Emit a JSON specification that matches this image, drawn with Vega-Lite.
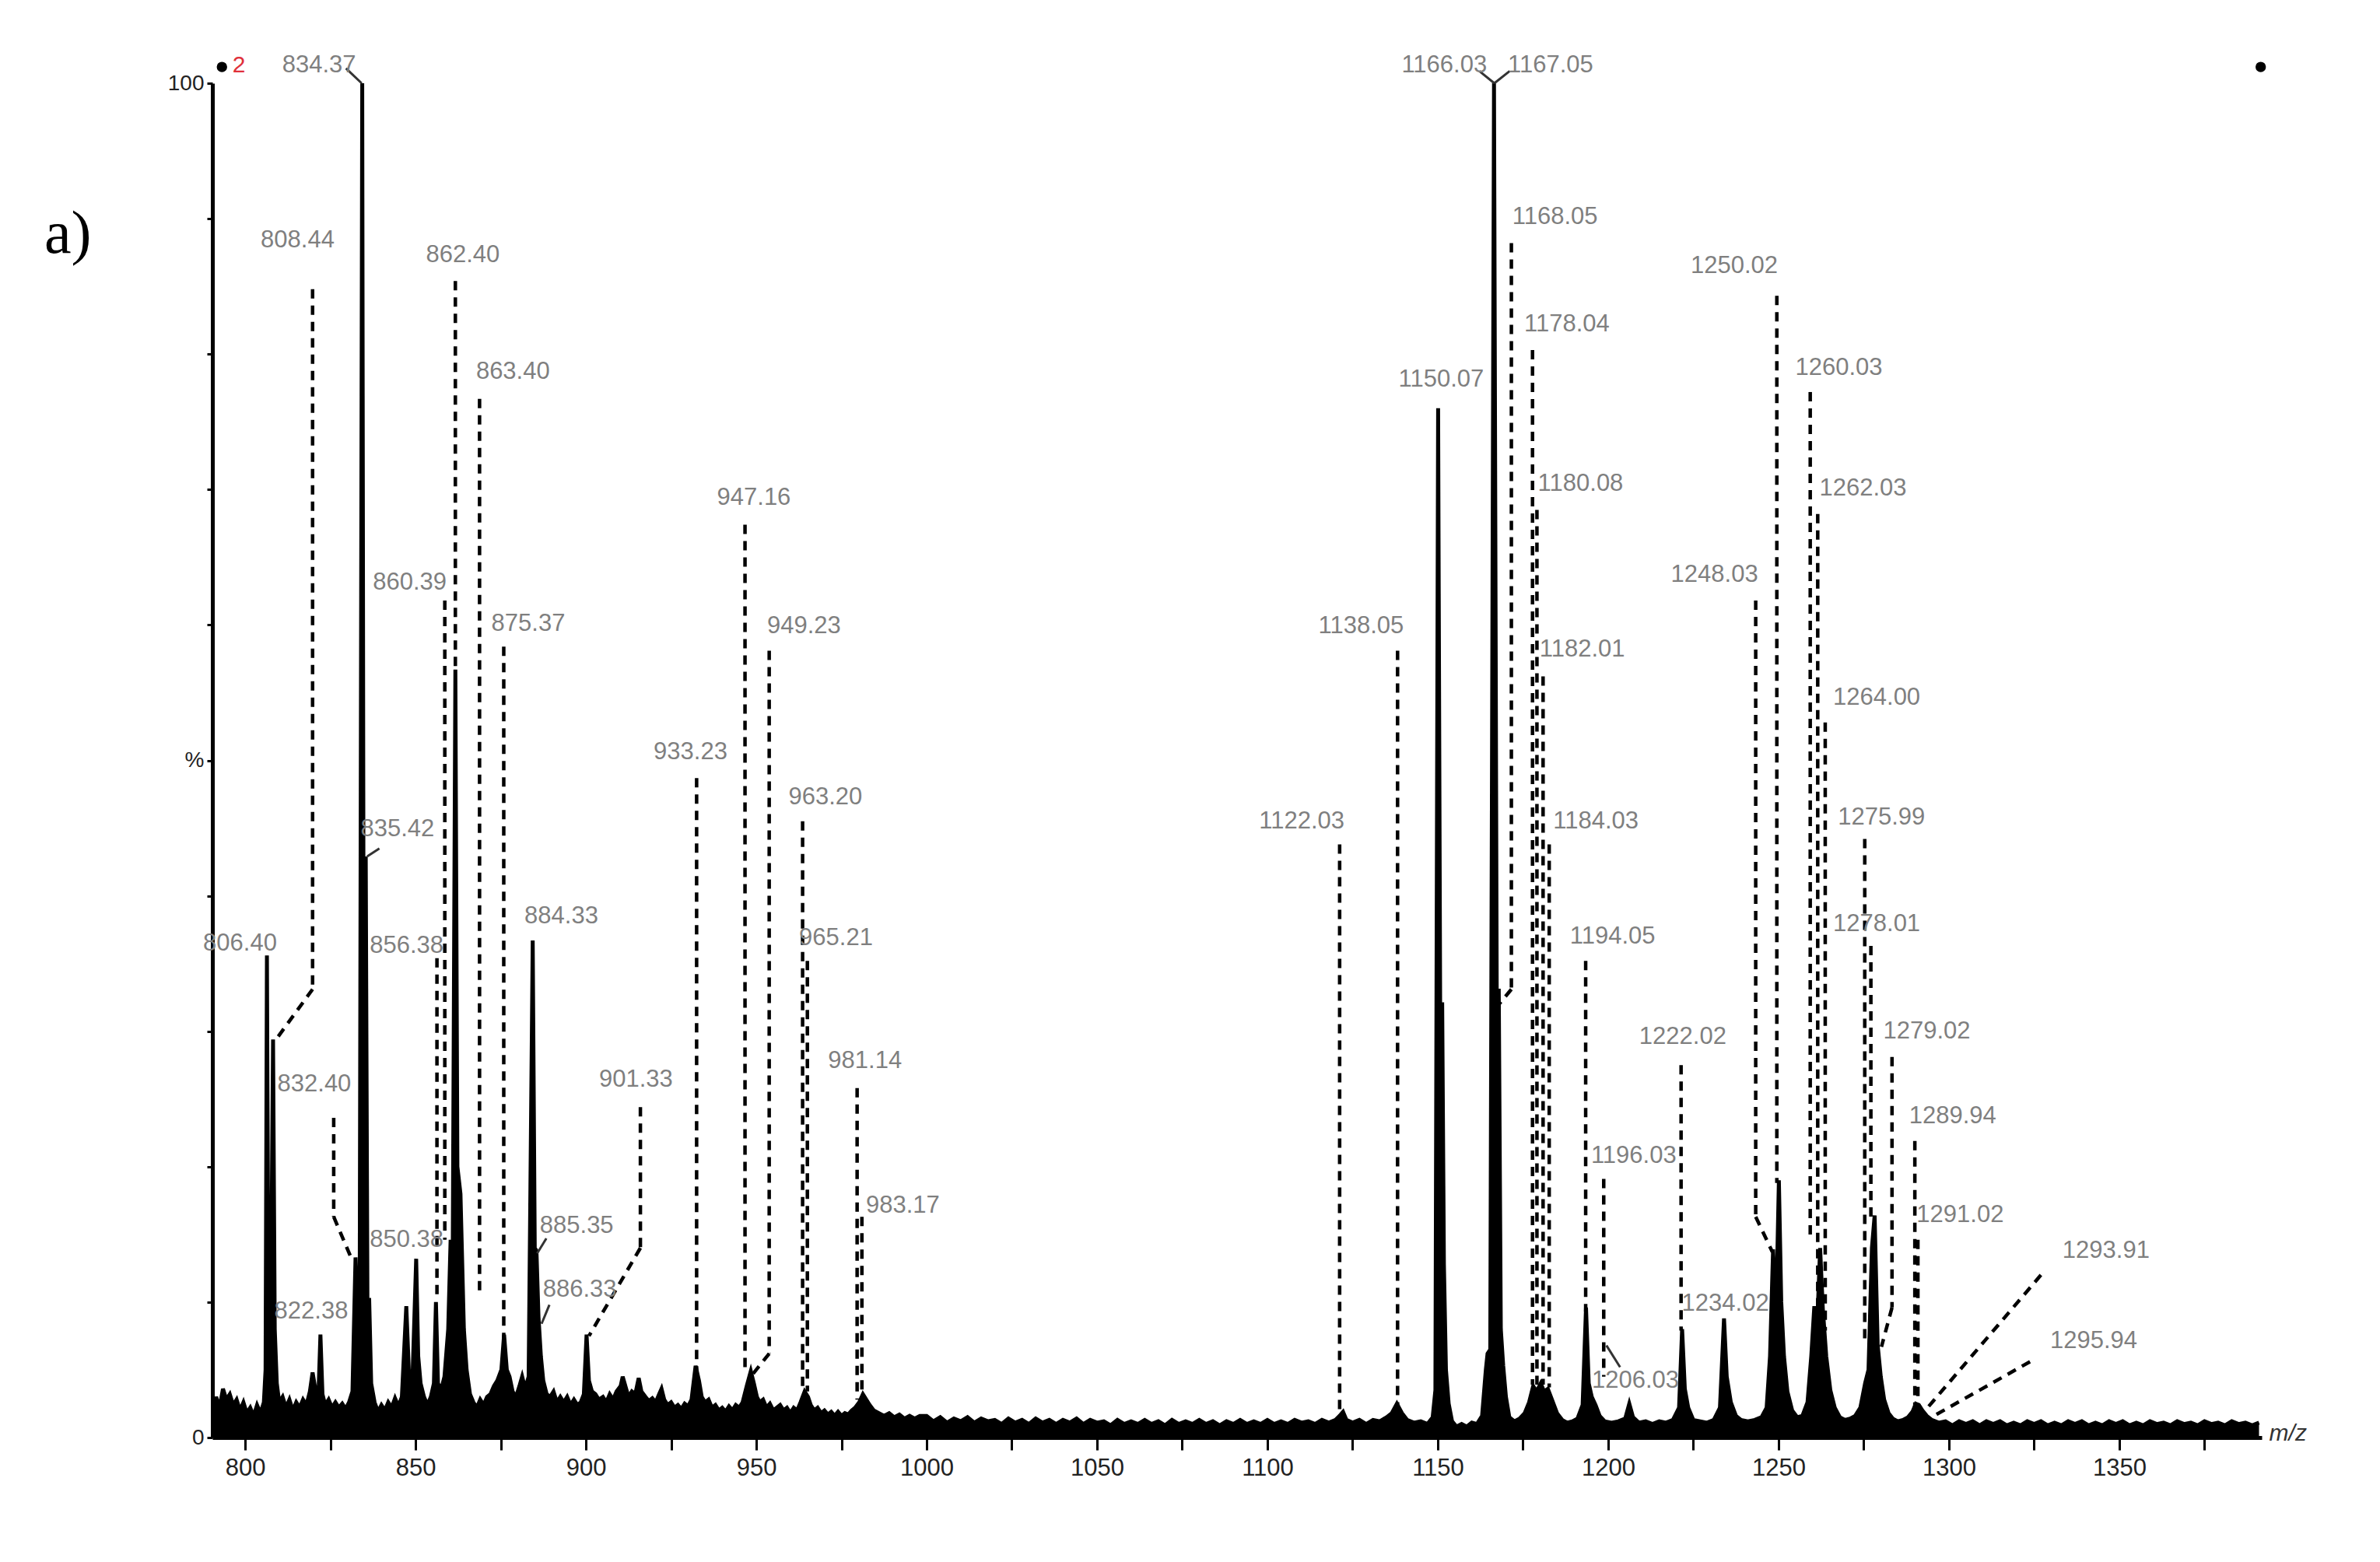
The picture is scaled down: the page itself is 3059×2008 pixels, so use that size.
{
  "$schema": "https://vega.github.io/schema/vega-lite/v6.json",
  "width": 2634,
  "height": 1741,
  "autosize": {"type": "none"},
  "padding": {"left": 273, "top": 107, "right": 152, "bottom": 160},
  "background": "white",
  "config": {"view": {"stroke": null}, "font": "Liberation Sans"},
  "datasets": {
    "spectrum": [
      {"mz": 790.5, "i": 1.5}, {"mz": 791.5, "i": 3.0}, {"mz": 792.5, "i": 2.2}, {"mz": 793.5, "i": 3.6}, {"mz": 794.5, "i": 2.8},
      {"mz": 795.5, "i": 3.2}, {"mz": 796.5, "i": 2.4}, {"mz": 797.5, "i": 2.8}, {"mz": 798.5, "i": 2.0}, {"mz": 799.5, "i": 2.6},
      {"mz": 800.5, "i": 1.8}, {"mz": 801.5, "i": 2.2}, {"mz": 802.5, "i": 1.6}, {"mz": 803.5, "i": 2.4}, {"mz": 804.5, "i": 1.8},
      {"mz": 805.5, "i": 2.6}, {"mz": 806.0, "i": 5}, {"mz": 806.4, "i": 35.6}, {"mz": 806.9, "i": 6}, {"mz": 807.6, "i": 10},
      {"mz": 808.2, "i": 29.4}, {"mz": 808.7, "i": 8}, {"mz": 809.3, "i": 4}, {"mz": 810, "i": 2.6}, {"mz": 811, "i": 3.0},
      {"mz": 812, "i": 2.2}, {"mz": 813, "i": 2.8}, {"mz": 814, "i": 2.0}, {"mz": 815, "i": 2.6}, {"mz": 816, "i": 2.2},
      {"mz": 817, "i": 2.8}, {"mz": 818, "i": 2.4}, {"mz": 819, "i": 3.4}, {"mz": 819.8, "i": 4.8}, {"mz": 820.6, "i": 3.6},
      {"mz": 821.5, "i": 3.0}, {"mz": 822.1, "i": 7.6}, {"mz": 822.7, "i": 3.2}, {"mz": 823.5, "i": 2.4}, {"mz": 824.5, "i": 2.8},
      {"mz": 825.5, "i": 2.2}, {"mz": 826.5, "i": 2.6}, {"mz": 827.5, "i": 2.2}, {"mz": 828.5, "i": 2.5}, {"mz": 829.5, "i": 2.1},
      {"mz": 830.5, "i": 2.6}, {"mz": 831.5, "i": 3.4}, {"mz": 832.4, "i": 13.3}, {"mz": 833.0, "i": 9}, {"mz": 833.6, "i": 8},
      {"mz": 834.37, "i": 100}, {"mz": 834.9, "i": 12}, {"mz": 835.4, "i": 42.9}, {"mz": 835.9, "i": 10}, {"mz": 836.4, "i": 10.3},
      {"mz": 837.0, "i": 4}, {"mz": 838, "i": 2.6}, {"mz": 839, "i": 1.9}, {"mz": 840, "i": 2.4}, {"mz": 841, "i": 2.0},
      {"mz": 842, "i": 2.6}, {"mz": 843, "i": 2.2}, {"mz": 844, "i": 2.9}, {"mz": 845, "i": 2.3}, {"mz": 846, "i": 3.0},
      {"mz": 847.3, "i": 9.7}, {"mz": 848.2, "i": 4}, {"mz": 849.2, "i": 5}, {"mz": 850.2, "i": 13.2}, {"mz": 850.8, "i": 6},
      {"mz": 851.5, "i": 4}, {"mz": 852.5, "i": 3}, {"mz": 853.5, "i": 2.4}, {"mz": 854.5, "i": 3.0}, {"mz": 855.4, "i": 4},
      {"mz": 856.0, "i": 10}, {"mz": 856.6, "i": 4}, {"mz": 857.5, "i": 3.5}, {"mz": 858.5, "i": 4.5}, {"mz": 859.6, "i": 8},
      {"mz": 860.3, "i": 14.6}, {"mz": 860.9, "i": 12}, {"mz": 861.7, "i": 56.7}, {"mz": 862.3, "i": 20}, {"mz": 863.2, "i": 18},
      {"mz": 864.2, "i": 8}, {"mz": 865, "i": 5}, {"mz": 866, "i": 3.2}, {"mz": 867, "i": 2.6}, {"mz": 868, "i": 2.2},
      {"mz": 869, "i": 2.8}, {"mz": 870, "i": 2.4}, {"mz": 871, "i": 3.0}, {"mz": 872, "i": 3.2}, {"mz": 873, "i": 3.8},
      {"mz": 874, "i": 4.2}, {"mz": 875.2, "i": 5}, {"mz": 876, "i": 7.6}, {"mz": 876.8, "i": 5}, {"mz": 877.6, "i": 4.5},
      {"mz": 878.5, "i": 3.4}, {"mz": 879.5, "i": 3.0}, {"mz": 880.5, "i": 3.8}, {"mz": 881.3, "i": 4.5}, {"mz": 882.2, "i": 3.6},
      {"mz": 883.2, "i": 4.5}, {"mz": 884.4, "i": 36.7}, {"mz": 885.0, "i": 14}, {"mz": 885.5, "i": 13.8}, {"mz": 886.1, "i": 8.9},
      {"mz": 886.8, "i": 6}, {"mz": 887.5, "i": 4.2}, {"mz": 888.5, "i": 3.2}, {"mz": 889.5, "i": 3.0}, {"mz": 890.5, "i": 3.4},
      {"mz": 891.5, "i": 2.6}, {"mz": 892.5, "i": 3.0}, {"mz": 893.5, "i": 2.6}, {"mz": 894.5, "i": 3.0}, {"mz": 895.5, "i": 2.4},
      {"mz": 896.5, "i": 2.8}, {"mz": 897.5, "i": 2.4}, {"mz": 898.5, "i": 2.6}, {"mz": 899.4, "i": 3.2}, {"mz": 900.2, "i": 7.6},
      {"mz": 900.9, "i": 4.2}, {"mz": 901.8, "i": 3.4}, {"mz": 902.8, "i": 3.2}, {"mz": 903.8, "i": 2.8}, {"mz": 905, "i": 3.0},
      {"mz": 906, "i": 2.6}, {"mz": 907, "i": 3.2}, {"mz": 908, "i": 2.8}, {"mz": 909, "i": 3.4}, {"mz": 910.2, "i": 3.8},
      {"mz": 910.8, "i": 4.5}, {"mz": 911.6, "i": 3.8}, {"mz": 912.5, "i": 3.0}, {"mz": 913.5, "i": 3.4}, {"mz": 914.5, "i": 3.2},
      {"mz": 915.5, "i": 4.4}, {"mz": 916.3, "i": 3.4}, {"mz": 917.5, "i": 3.0}, {"mz": 918.5, "i": 2.7}, {"mz": 919.5, "i": 2.9},
      {"mz": 920.5, "i": 2.6}, {"mz": 921.5, "i": 3.2}, {"mz": 922.2, "i": 3.6}, {"mz": 923, "i": 2.8}, {"mz": 924, "i": 2.4},
      {"mz": 925, "i": 2.6}, {"mz": 926, "i": 2.2}, {"mz": 927, "i": 2.4}, {"mz": 928, "i": 2.1}, {"mz": 929, "i": 2.5},
      {"mz": 930, "i": 2.3}, {"mz": 931, "i": 2.8}, {"mz": 932.2, "i": 5.3}, {"mz": 933.2, "i": 4.2}, {"mz": 934, "i": 3.0},
      {"mz": 935, "i": 2.6}, {"mz": 936, "i": 2.8}, {"mz": 937, "i": 2.2}, {"mz": 938, "i": 2.4}, {"mz": 939, "i": 2.0},
      {"mz": 940, "i": 2.2}, {"mz": 941, "i": 1.9}, {"mz": 942, "i": 2.3}, {"mz": 943, "i": 2.0}, {"mz": 944, "i": 2.4},
      {"mz": 945, "i": 2.2}, {"mz": 946, "i": 2.6}, {"mz": 947.2, "i": 3.8}, {"mz": 948.4, "i": 4.9}, {"mz": 949.3, "i": 4.0},
      {"mz": 950.2, "i": 3.0}, {"mz": 951, "i": 2.6}, {"mz": 952, "i": 2.8}, {"mz": 953, "i": 2.2}, {"mz": 954, "i": 2.5},
      {"mz": 955, "i": 2.0}, {"mz": 956, "i": 2.2}, {"mz": 957, "i": 2.4}, {"mz": 958, "i": 2.0}, {"mz": 959, "i": 2.2},
      {"mz": 960, "i": 1.8}, {"mz": 961, "i": 2.2}, {"mz": 962, "i": 2.0}, {"mz": 963, "i": 2.6}, {"mz": 964.2, "i": 3.4},
      {"mz": 965.2, "i": 3.0}, {"mz": 966, "i": 2.4}, {"mz": 967, "i": 2.0}, {"mz": 968, "i": 2.2}, {"mz": 969, "i": 1.8},
      {"mz": 970, "i": 2.0}, {"mz": 971, "i": 1.7}, {"mz": 972, "i": 1.9}, {"mz": 973, "i": 1.6}, {"mz": 974, "i": 1.9},
      {"mz": 975, "i": 1.6}, {"mz": 976, "i": 1.8}, {"mz": 977, "i": 1.7}, {"mz": 978, "i": 2.0}, {"mz": 979, "i": 2.2},
      {"mz": 980.2, "i": 2.6}, {"mz": 981.3, "i": 3.2}, {"mz": 982.3, "i": 2.8}, {"mz": 983.3, "i": 2.4}, {"mz": 984.5, "i": 2.0},
      {"mz": 986, "i": 1.8}, {"mz": 987.5, "i": 1.6}, {"mz": 989, "i": 1.8}, {"mz": 990.5, "i": 1.5}, {"mz": 992, "i": 1.7},
      {"mz": 993.5, "i": 1.4}, {"mz": 995, "i": 1.6}, {"mz": 996.5, "i": 1.4}, {"mz": 998, "i": 1.6}, {"mz": 1000, "i": 1.6},
      {"mz": 1002, "i": 1.2}, {"mz": 1004, "i": 1.5}, {"mz": 1006, "i": 1.1}, {"mz": 1008, "i": 1.4}, {"mz": 1010, "i": 1.2},
      {"mz": 1012, "i": 1.5}, {"mz": 1014, "i": 1.1}, {"mz": 1016, "i": 1.4}, {"mz": 1018, "i": 1.2}, {"mz": 1020, "i": 1.3},
      {"mz": 1022, "i": 1.0}, {"mz": 1024, "i": 1.4}, {"mz": 1026, "i": 1.1}, {"mz": 1028, "i": 1.3}, {"mz": 1030, "i": 1.0},
      {"mz": 1032, "i": 1.4}, {"mz": 1034, "i": 1.1}, {"mz": 1036, "i": 1.3}, {"mz": 1038, "i": 1.0}, {"mz": 1040, "i": 1.3},
      {"mz": 1042, "i": 1.1}, {"mz": 1044, "i": 1.4}, {"mz": 1046, "i": 1.0}, {"mz": 1048, "i": 1.3}, {"mz": 1050, "i": 1.1},
      {"mz": 1052, "i": 1.2}, {"mz": 1054, "i": 0.9}, {"mz": 1056, "i": 1.3}, {"mz": 1058, "i": 1.0}, {"mz": 1060, "i": 1.2},
      {"mz": 1062, "i": 1.0}, {"mz": 1064, "i": 1.3}, {"mz": 1066, "i": 1.0}, {"mz": 1068, "i": 1.2}, {"mz": 1070, "i": 0.9},
      {"mz": 1072, "i": 1.3}, {"mz": 1074, "i": 1.0}, {"mz": 1076, "i": 1.2}, {"mz": 1078, "i": 1.0}, {"mz": 1080, "i": 1.3},
      {"mz": 1082, "i": 1.0}, {"mz": 1084, "i": 1.2}, {"mz": 1086, "i": 0.9}, {"mz": 1088, "i": 1.2}, {"mz": 1090, "i": 1.0},
      {"mz": 1092, "i": 1.3}, {"mz": 1094, "i": 1.0}, {"mz": 1096, "i": 1.2}, {"mz": 1098, "i": 1.0}, {"mz": 1100, "i": 1.3},
      {"mz": 1102, "i": 1.0}, {"mz": 1104, "i": 1.2}, {"mz": 1106, "i": 1.0}, {"mz": 1108, "i": 1.3}, {"mz": 1110, "i": 1.1},
      {"mz": 1112, "i": 1.2}, {"mz": 1114, "i": 1.0}, {"mz": 1116, "i": 1.3}, {"mz": 1118, "i": 1.1}, {"mz": 1120, "i": 1.3},
      {"mz": 1121.2, "i": 1.6}, {"mz": 1122.2, "i": 1.9}, {"mz": 1123.2, "i": 1.3}, {"mz": 1125, "i": 1.1}, {"mz": 1127, "i": 1.3},
      {"mz": 1129, "i": 1.0}, {"mz": 1131, "i": 1.3}, {"mz": 1133, "i": 1.2}, {"mz": 1135, "i": 1.5}, {"mz": 1136.5, "i": 1.8},
      {"mz": 1138, "i": 2.5}, {"mz": 1139.5, "i": 1.8}, {"mz": 1141, "i": 1.3}, {"mz": 1143, "i": 1.1}, {"mz": 1145, "i": 1.2},
      {"mz": 1147, "i": 1.0}, {"mz": 1148.5, "i": 1.5}, {"mz": 1149.3, "i": 3.5}, {"mz": 1150.1, "i": 76}, {"mz": 1150.7, "i": 32},
      {"mz": 1151.3, "i": 32}, {"mz": 1151.8, "i": 12.8}, {"mz": 1152.4, "i": 5}, {"mz": 1153.2, "i": 2.5}, {"mz": 1154.2, "i": 1.2},
      {"mz": 1155.5, "i": 0.8}, {"mz": 1157, "i": 1.0}, {"mz": 1158.5, "i": 0.8}, {"mz": 1160, "i": 1.1}, {"mz": 1161.5, "i": 1.0},
      {"mz": 1163, "i": 1.6}, {"mz": 1164.1, "i": 5}, {"mz": 1164.6, "i": 6.2}, {"mz": 1165.4, "i": 6.5}, {"mz": 1166.5, "i": 100},
      {"mz": 1167.3, "i": 33}, {"mz": 1167.9, "i": 33}, {"mz": 1168.5, "i": 8}, {"mz": 1169.2, "i": 5.3}, {"mz": 1170, "i": 3},
      {"mz": 1171, "i": 1.5}, {"mz": 1172.5, "i": 1.2}, {"mz": 1174, "i": 1.4}, {"mz": 1175.5, "i": 1.8}, {"mz": 1176.8, "i": 2.6},
      {"mz": 1178, "i": 3.8}, {"mz": 1179, "i": 3.4}, {"mz": 1180.2, "i": 4.0}, {"mz": 1181.2, "i": 3.4}, {"mz": 1182.3, "i": 3.6},
      {"mz": 1183.5, "i": 2.8}, {"mz": 1185, "i": 1.8}, {"mz": 1186.5, "i": 1.3}, {"mz": 1188, "i": 1.1}, {"mz": 1189.5, "i": 1.2},
      {"mz": 1191, "i": 1.4}, {"mz": 1192.5, "i": 2.4}, {"mz": 1193.5, "i": 9.6}, {"mz": 1194.3, "i": 4}, {"mz": 1195.2, "i": 3},
      {"mz": 1196.3, "i": 2.4}, {"mz": 1197.5, "i": 1.6}, {"mz": 1199, "i": 1.2}, {"mz": 1201, "i": 1.1}, {"mz": 1203, "i": 1.2},
      {"mz": 1205, "i": 1.4}, {"mz": 1206.2, "i": 2.5}, {"mz": 1207.3, "i": 1.5}, {"mz": 1209, "i": 1.1}, {"mz": 1211, "i": 1.2},
      {"mz": 1213, "i": 1.0}, {"mz": 1215, "i": 1.2}, {"mz": 1217, "i": 1.1}, {"mz": 1219, "i": 1.3}, {"mz": 1220.8, "i": 2.2},
      {"mz": 1221.7, "i": 8.0}, {"mz": 1222.5, "i": 3.6}, {"mz": 1223.5, "i": 2.2}, {"mz": 1225, "i": 1.3}, {"mz": 1227, "i": 1.2},
      {"mz": 1229, "i": 1.1}, {"mz": 1231, "i": 1.3}, {"mz": 1232.8, "i": 2.2}, {"mz": 1234, "i": 8.8}, {"mz": 1234.8, "i": 4.5},
      {"mz": 1236, "i": 2.6}, {"mz": 1237.5, "i": 1.6}, {"mz": 1239, "i": 1.3}, {"mz": 1241, "i": 1.2}, {"mz": 1243, "i": 1.3},
      {"mz": 1245, "i": 1.5}, {"mz": 1246.5, "i": 2.2}, {"mz": 1247.5, "i": 6}, {"mz": 1248.4, "i": 13.9}, {"mz": 1249.2, "i": 8},
      {"mz": 1250.1, "i": 19}, {"mz": 1250.8, "i": 10}, {"mz": 1251.6, "i": 6}, {"mz": 1252.6, "i": 3.4}, {"mz": 1254, "i": 2.0},
      {"mz": 1255.5, "i": 1.5}, {"mz": 1257, "i": 1.6}, {"mz": 1258.5, "i": 2.6}, {"mz": 1259.6, "i": 6}, {"mz": 1260.5, "i": 9.7},
      {"mz": 1261.3, "i": 8}, {"mz": 1262.2, "i": 14}, {"mz": 1263, "i": 9.5}, {"mz": 1264, "i": 6}, {"mz": 1265.2, "i": 3.5},
      {"mz": 1266.5, "i": 2.2}, {"mz": 1268, "i": 1.5}, {"mz": 1269.5, "i": 1.3}, {"mz": 1271, "i": 1.4}, {"mz": 1272.5, "i": 1.6},
      {"mz": 1274, "i": 2.2}, {"mz": 1275.4, "i": 4}, {"mz": 1276.4, "i": 5}, {"mz": 1277.4, "i": 14}, {"mz": 1278.2, "i": 16.4},
      {"mz": 1279.1, "i": 6.8}, {"mz": 1280, "i": 4.5}, {"mz": 1281, "i": 2.8}, {"mz": 1282.3, "i": 1.8}, {"mz": 1283.5, "i": 1.4},
      {"mz": 1285, "i": 1.2}, {"mz": 1286.5, "i": 1.3}, {"mz": 1288, "i": 1.5}, {"mz": 1289.3, "i": 1.9}, {"mz": 1290.3, "i": 2.5},
      {"mz": 1291.2, "i": 2.4}, {"mz": 1292.2, "i": 2.0}, {"mz": 1293.5, "i": 1.6}, {"mz": 1295, "i": 1.3}, {"mz": 1297, "i": 1.1},
      {"mz": 1299, "i": 1.2}, {"mz": 1301, "i": 0.9}, {"mz": 1303, "i": 1.2}, {"mz": 1305, "i": 1.0}, {"mz": 1307, "i": 1.2},
      {"mz": 1309, "i": 0.9}, {"mz": 1311, "i": 1.2}, {"mz": 1313, "i": 1.0}, {"mz": 1315, "i": 1.2}, {"mz": 1317, "i": 0.9},
      {"mz": 1319, "i": 1.1}, {"mz": 1321, "i": 0.9}, {"mz": 1323, "i": 1.2}, {"mz": 1325, "i": 1.0}, {"mz": 1327, "i": 1.2},
      {"mz": 1329, "i": 0.9}, {"mz": 1331, "i": 1.1}, {"mz": 1333, "i": 0.9}, {"mz": 1335, "i": 1.2}, {"mz": 1337, "i": 1.0},
      {"mz": 1339, "i": 1.2}, {"mz": 1341, "i": 0.9}, {"mz": 1343, "i": 1.1}, {"mz": 1345, "i": 0.9}, {"mz": 1347, "i": 1.2},
      {"mz": 1349, "i": 1.0}, {"mz": 1351, "i": 1.2}, {"mz": 1353, "i": 0.9}, {"mz": 1355, "i": 1.1}, {"mz": 1357, "i": 0.9},
      {"mz": 1359, "i": 1.2}, {"mz": 1361, "i": 1.0}, {"mz": 1363, "i": 1.1}, {"mz": 1365, "i": 0.9}, {"mz": 1367, "i": 1.2},
      {"mz": 1369, "i": 1.0}, {"mz": 1371, "i": 1.1}, {"mz": 1373, "i": 0.9}, {"mz": 1375, "i": 1.2}, {"mz": 1377, "i": 1.0},
      {"mz": 1379, "i": 1.1}, {"mz": 1381, "i": 0.9}, {"mz": 1383, "i": 1.2}, {"mz": 1385, "i": 1.0}, {"mz": 1387, "i": 1.1},
      {"mz": 1389, "i": 0.9}, {"mz": 1391, "i": 1.1}
    ],
    "labels": [
      {"t": "834.37", "x": 821.7, "y": 101.3}, {"t": "806.40", "x": 798.5, "y": 36.5}, {"t": "808.44", "x": 815.4, "y": 88.4},
      {"t": "832.40", "x": 820.3, "y": 26.1}, {"t": "822.38", "x": 819.4, "y": 9.3}, {"t": "835.42", "x": 844.7, "y": 44.9},
      {"t": "856.38", "x": 847.4, "y": 36.3}, {"t": "850.38", "x": 847.4, "y": 14.6}, {"t": "860.39", "x": 848.3, "y": 63.1},
      {"t": "862.40", "x": 863.9, "y": 87.3}, {"t": "863.40", "x": 878.6, "y": 78.7}, {"t": "875.37", "x": 883.1, "y": 60.1},
      {"t": "884.33", "x": 892.8, "y": 38.5}, {"t": "885.35", "x": 897.3, "y": 15.6}, {"t": "886.33", "x": 898.2, "y": 10.9},
      {"t": "901.33", "x": 914.7, "y": 26.4}, {"t": "933.23", "x": 930.7, "y": 50.6}, {"t": "947.16", "x": 949.3, "y": 69.4},
      {"t": "949.23", "x": 964.0, "y": 59.9}, {"t": "963.20", "x": 970.3, "y": 47.3}, {"t": "965.21", "x": 973.4, "y": 36.9},
      {"t": "981.14", "x": 981.9, "y": 27.8}, {"t": "983.17", "x": 993.0, "y": 17.1},
      {"t": "1166.03", "x": 1151.9, "y": 101.3}, {"t": "1167.05", "x": 1183.1, "y": 101.3}, {"t": "1150.07", "x": 1151.0, "y": 78.1},
      {"t": "1168.05", "x": 1184.4, "y": 90.1}, {"t": "1178.04", "x": 1187.9, "y": 82.2}, {"t": "1180.08", "x": 1191.9, "y": 70.4},
      {"t": "1182.01", "x": 1192.4, "y": 58.2}, {"t": "1184.03", "x": 1196.4, "y": 45.5}, {"t": "1194.05", "x": 1201.3, "y": 37.0},
      {"t": "1196.03", "x": 1207.5, "y": 20.8}, {"t": "1206.03", "x": 1208.0, "y": 4.2}, {"t": "1138.05", "x": 1127.5, "y": 59.9},
      {"t": "1122.03", "x": 1110.1, "y": 45.5}, {"t": "1222.02", "x": 1221.9, "y": 29.6}, {"t": "1234.02", "x": 1234.4, "y": 9.9},
      {"t": "1250.02", "x": 1237.0, "y": 86.5}, {"t": "1248.03", "x": 1231.2, "y": 63.7}, {"t": "1260.03", "x": 1267.7, "y": 79.0},
      {"t": "1262.03", "x": 1274.8, "y": 70.1}, {"t": "1264.00", "x": 1278.8, "y": 54.6}, {"t": "1275.99", "x": 1280.2, "y": 45.8},
      {"t": "1278.01", "x": 1278.8, "y": 37.9}, {"t": "1279.02", "x": 1293.5, "y": 30.0}, {"t": "1289.94", "x": 1301.1, "y": 23.7},
      {"t": "1291.02", "x": 1303.3, "y": 16.4}, {"t": "1293.91", "x": 1346.1, "y": 13.8}, {"t": "1295.94", "x": 1342.5, "y": 7.1}
    ],
    "leaders": [
      {"x": 819.8, "y": 84.8, "x2": 819.8, "y2": 33.1}, {"x": 819.8, "y": 33.1, "x2": 809.1, "y2": 29.4},
      {"x": 826.0, "y": 23.6, "x2": 826.0, "y2": 16.3}, {"x": 826.0, "y": 16.3, "x2": 831.4, "y2": 13.1},
      {"x": 856.3, "y": 35.4, "x2": 856.3, "y2": 10.1},
      {"x": 858.6, "y": 61.8, "x2": 858.6, "y2": 14.6},
      {"x": 861.7, "y": 85.4, "x2": 861.7, "y2": 56.7},
      {"x": 868.8, "y": 76.7, "x2": 868.8, "y2": 10.7},
      {"x": 875.9, "y": 58.4, "x2": 875.9, "y2": 7.3},
      {"x": 916.0, "y": 24.4, "x2": 916.0, "y2": 14.0}, {"x": 916.0, "y": 14.0, "x2": 900.9, "y2": 7.5},
      {"x": 932.5, "y": 48.7, "x2": 932.5, "y2": 4.5},
      {"x": 946.7, "y": 67.4, "x2": 946.7, "y2": 5.1},
      {"x": 953.8, "y": 58.1, "x2": 953.8, "y2": 6.2}, {"x": 953.8, "y": 6.2, "x2": 948.4, "y2": 4.5},
      {"x": 963.6, "y": 45.5, "x2": 963.6, "y2": 3.4},
      {"x": 965.0, "y": 35.2, "x2": 965.0, "y2": 3.4},
      {"x": 979.6, "y": 25.8, "x2": 979.6, "y2": 2.8},
      {"x": 981.0, "y": 16.3, "x2": 981.0, "y2": 2.8},
      {"x": 1171.6, "y": 88.2, "x2": 1171.6, "y2": 33.1}, {"x": 1171.6, "y": 33.1, "x2": 1168.0, "y2": 32.0},
      {"x": 1177.8, "y": 80.3, "x2": 1177.8, "y2": 3.9},
      {"x": 1179.1, "y": 68.5, "x2": 1179.1, "y2": 3.9},
      {"x": 1180.9, "y": 56.2, "x2": 1180.9, "y2": 3.9},
      {"x": 1182.7, "y": 43.8, "x2": 1182.7, "y2": 3.7},
      {"x": 1193.4, "y": 35.2, "x2": 1193.4, "y2": 9.3},
      {"x": 1198.7, "y": 19.1, "x2": 1198.7, "y2": 4.5},
      {"x": 1138.2, "y": 58.1, "x2": 1138.2, "y2": 1.7},
      {"x": 1121.2, "y": 43.8, "x2": 1121.2, "y2": 1.1},
      {"x": 1221.4, "y": 27.5, "x2": 1221.4, "y2": 7.9},
      {"x": 1249.5, "y": 84.3, "x2": 1249.5, "y2": 18.8},
      {"x": 1243.3, "y": 61.8, "x2": 1243.3, "y2": 16.3}, {"x": 1243.3, "y": 16.3, "x2": 1248.2, "y2": 13.7},
      {"x": 1259.3, "y": 77.2, "x2": 1259.3, "y2": 14.6},
      {"x": 1261.5, "y": 68.2, "x2": 1261.5, "y2": 9.6},
      {"x": 1263.7, "y": 52.8, "x2": 1263.7, "y2": 7.9},
      {"x": 1275.3, "y": 44.2, "x2": 1275.3, "y2": 7.3},
      {"x": 1277.1, "y": 36.3, "x2": 1277.1, "y2": 16.3},
      {"x": 1283.3, "y": 28.1, "x2": 1283.3, "y2": 9.6}, {"x": 1283.3, "y": 9.6, "x2": 1280.2, "y2": 6.7},
      {"x": 1290.0, "y": 21.9, "x2": 1290.0, "y2": 2.2},
      {"x": 1290.9, "y": 14.6, "x2": 1290.9, "y2": 2.2},
      {"x": 1327.0, "y": 12.0, "x2": 1292.7, "y2": 1.9},
      {"x": 1323.8, "y": 5.6, "x2": 1294.9, "y2": 1.5}
    ],
    "connectors": [
      {"x": 829.6, "y": 101.1, "x2": 834.2, "y2": 100.0},
      {"x": 839.4, "y": 43.5, "x2": 835.8, "y2": 42.9},
      {"x": 888.4, "y": 14.7, "x2": 885.7, "y2": 13.6},
      {"x": 889.3, "y": 9.8, "x2": 887.0, "y2": 8.4},
      {"x": 1162.2, "y": 100.9, "x2": 1166.6, "y2": 100.0},
      {"x": 1171.1, "y": 100.9, "x2": 1166.6, "y2": 100.0},
      {"x": 1203.5, "y": 5.2, "x2": 1199.5, "y2": 6.8}
    ]
  },
  "layer": [
    {
      "data": {"name": "spectrum"},
      "mark": {"type": "area", "color": "black", "clip": true},
      "encoding": {
        "x": {
          "field": "mz",
          "type": "quantitative",
          "scale": {"domain": [790.4, 1391.8], "nice": false, "zero": false},
          "axis": {
            "title": null,
            "grid": false,
            "values": [800, 825, 850, 875, 900, 925, 950, 975, 1000, 1025, 1050, 1075, 1100, 1125, 1150, 1175, 1200, 1225, 1250, 1275, 1300, 1325, 1350, 1375],
            "format": "d",
            "labelExpr": "datum.value % 50 == 0 ? datum.label : ''",
            "labelFontSize": 31,
            "labelColor": "#222",
            "labelPadding": 8,
            "tickSize": 16,
            "tickWidth": 3,
            "tickColor": "black",
            "domainColor": "black",
            "domainWidth": 5
          }
        },
        "y": {
          "field": "i",
          "type": "quantitative",
          "scale": {"domain": [0, 100], "nice": false},
          "axis": {
            "title": null,
            "grid": false,
            "values": [0, 10, 20, 30, 40, 50, 60, 70, 80, 90, 100],
            "labelExpr": "datum.value == 100 ? '100' : datum.value == 50 ? '%' : datum.value == 0 ? '0' : ''",
            "labelFontSize": 28,
            "labelColor": "#222",
            "labelPadding": 4,
            "tickSize": 7,
            "tickWidth": 3,
            "tickColor": "black",
            "domainColor": "black",
            "domainWidth": 5
          }
        }
      }
    },
    {
      "data": {"name": "spectrum"},
      "mark": {"type": "line", "color": "black", "strokeWidth": 5, "clip": true},
      "encoding": {
        "x": {"field": "mz", "type": "quantitative"},
        "y": {"field": "i", "type": "quantitative"}
      }
    },
    {
      "data": {"name": "leaders"},
      "mark": {"type": "rule", "color": "black", "strokeWidth": 4.5, "strokeDash": [12, 9]},
      "encoding": {
        "x": {"field": "x", "type": "quantitative"},
        "y": {"field": "y", "type": "quantitative"},
        "x2": {"field": "x2"},
        "y2": {"field": "y2"}
      }
    },
    {
      "data": {"name": "connectors"},
      "mark": {"type": "rule", "color": "#333", "strokeWidth": 3},
      "encoding": {
        "x": {"field": "x", "type": "quantitative"},
        "y": {"field": "y", "type": "quantitative"},
        "x2": {"field": "x2"},
        "y2": {"field": "y2"}
      }
    },
    {
      "data": {"name": "labels"},
      "mark": {"type": "text", "fontSize": 31, "color": "#7f7f7f", "align": "center", "baseline": "middle", "clip": false},
      "encoding": {
        "x": {"field": "x", "type": "quantitative"},
        "y": {"field": "y", "type": "quantitative"},
        "text": {"field": "t"}
      }
    },
    {
      "data": {"values": [{"t": "a)", "x": 748, "y": 88.8}]},
      "mark": {"type": "text", "font": "Liberation Serif", "fontSize": 78, "color": "black", "align": "center", "baseline": "middle"},
      "encoding": {
        "x": {"field": "x", "type": "quantitative"},
        "y": {"field": "y", "type": "quantitative"},
        "text": {"field": "t"}
      }
    },
    {
      "data": {"values": [{"t": "2", "x": 798.2, "y": 101.3}]},
      "mark": {"type": "text", "fontSize": 30, "color": "#e0303a", "align": "center", "baseline": "middle"},
      "encoding": {
        "x": {"field": "x", "type": "quantitative"},
        "y": {"field": "y", "type": "quantitative"},
        "text": {"field": "t"}
      }
    },
    {
      "data": {"values": [{"x": 793.2, "y": 101.2}, {"x": 1391.5, "y": 101.2}]},
      "mark": {"type": "point", "filled": true, "color": "black", "size": 180, "opacity": 1},
      "encoding": {
        "x": {"field": "x", "type": "quantitative"},
        "y": {"field": "y", "type": "quantitative"}
      }
    },
    {
      "data": {"values": [{"t": "m/z", "x": 1399.5, "y": 0.3}]},
      "mark": {"type": "text", "fontSize": 30, "fontStyle": "italic", "color": "#333", "align": "center", "baseline": "middle"},
      "encoding": {
        "x": {"field": "x", "type": "quantitative"},
        "y": {"field": "y", "type": "quantitative"},
        "text": {"field": "t"}
      }
    }
  ]
}
